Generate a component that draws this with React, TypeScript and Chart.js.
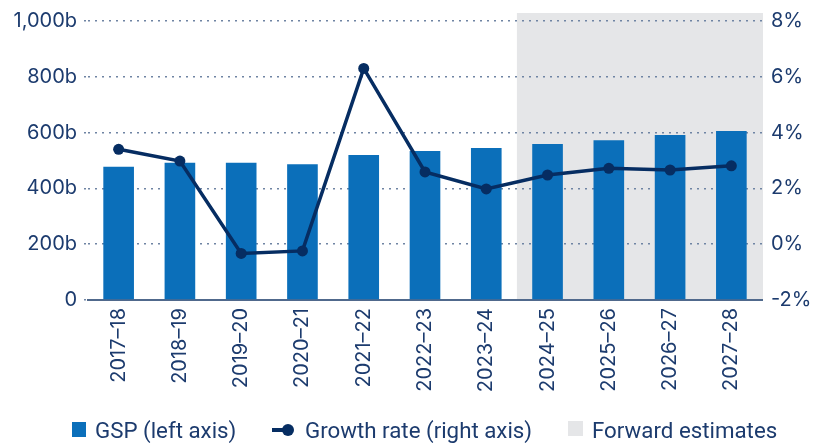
import React, { useEffect, useRef } from 'react';
import { Chart, registerables } from 'chart.js';

Chart.register(...registerables);

const categories = ['2017–18', '2018–19', '2019–20', '2020–21', '2021–22', '2022–23', '2023–24', '2024–25', '2025–26', '2026–27', '2027–28'];
const gspValues = [478, 492, 492, 487, 520, 534, 545, 559, 573, 591, 606];
const growthValues = [3.4, 2.98, -0.33, -0.24, 6.3, 2.59, 1.98, 2.48, 2.72, 2.66, 2.81];
const forwardStartIndex = 7;
const legendLabels = ['GSP (left axis)', 'Growth rate (right axis)', 'Forward estimates'];

const BAR = '#0b6fba';
const LINE = '#062d62';
const TEXT = '#1c3b6e';
const SHADE = '#e5e6e8';
const GRID = '#6f84a3';

const shadePlugin = {
  id: 'forwardShade',
  beforeDraw(chart: any) {
    const { ctx, chartArea, scales } = chart;
    const x = scales.x;
    const half = (x.getPixelForValue(1) - x.getPixelForValue(0)) / 2;
    const left = x.getPixelForValue(forwardStartIndex) - half;
    ctx.save();
    ctx.fillStyle = SHADE;
    ctx.fillRect(left, chartArea.top - 8, chartArea.right - left + 1, chartArea.bottom - chartArea.top + 8);
    ctx.restore();
  },
};

export default function App() {
  const ref = useRef<HTMLCanvasElement>(null);
  useEffect(() => {
    if (!ref.current) return;
    const tickFont = { family: 'Inter', size: 20 };
    const chart = new Chart(ref.current, {
      type: 'bar',
      data: {
        labels: categories,
        datasets: [
          {
            type: 'line',
            label: legendLabels[1],
            data: growthValues,
            yAxisID: 'y1',
            borderColor: LINE,
            backgroundColor: LINE,
            borderWidth: 3.5,
            pointRadius: 5.5,
            pointBackgroundColor: LINE,
            pointBorderWidth: 0,
            tension: 0,
            order: 1,
          } as any,
          {
            type: 'bar',
            label: legendLabels[0],
            data: gspValues,
            yAxisID: 'y',
            backgroundColor: BAR,
            barPercentage: 0.5,
            categoryPercentage: 1,
            order: 2,
          },
        ],
      },
      options: {
        animation: false,
        responsive: true,
        maintainAspectRatio: false,
        layout: { padding: { top: 21, left: 0, right: 0, bottom: 0 } },
        plugins: { legend: { display: false }, tooltip: { enabled: false } },
        scales: {
          x: {
            offset: true,
            grid: { display: false, drawTicks: false },
            border: { display: true, color: '#50698c', width: 2 },
            ticks: { color: TEXT, font: tickFont, minRotation: 90, maxRotation: 90, padding: 8, autoSkip: false },
            afterFit(s: any) { s.height = 143; },
          },
          y: {
            position: 'left',
            min: 0,
            max: 1000,
            grid: { color: GRID, lineWidth: 1.5, drawTicks: true, tickLength: 4, tickBorderDash: [2, 5], tickColor: GRID },
            border: { display: false, dash: [2, 5] },
            ticks: {
              stepSize: 200,
              color: TEXT,
              font: tickFont,
              padding: 7,
              callback: (v: any) => (v === 0 ? '0' : Number(v).toLocaleString('en-US') + 'b'),
            },
            afterFit(s: any) { s.width = 88; },
          },
          y1: {
            position: 'right',
            min: -2,
            max: 8,
            grid: { drawOnChartArea: false, drawTicks: false },
            border: { display: false },
            ticks: {
              stepSize: 2,
              color: TEXT,
              font: tickFont,
              padding: 9,
              callback: (v: any) => v + '%',
            },
            afterFit(s: any) { s.width = 55; },
          },
        },
      },
      plugins: [shadePlugin],
    });
    return () => chart.destroy();
  }, []);

  const legendText: React.CSSProperties = {
    position: 'absolute',
    top: 417,
    fontFamily: 'Roboto',
    fontSize: 22.3,
    color: TEXT,
    whiteSpace: 'nowrap',
    lineHeight: '26px',
  };

  return (
    <div style={{ position: 'fixed', left: 0, top: 0, width: 817, height: 443, background: '#fff' }}>
      <canvas ref={ref} />
      <div style={{ position: 'absolute', left: 72, top: 422, width: 14, height: 15, background: BAR }} />
      <div style={{ ...legendText, left: 95 }}>{legendLabels[0]}</div>
      <div style={{ position: 'absolute', left: 272, top: 428, width: 18, height: 4, background: LINE }} />
      <div style={{ position: 'absolute', left: 282, top: 424, width: 12, height: 12, borderRadius: 6, background: LINE }} />
      <div style={{ ...legendText, left: 305 }}>{legendLabels[1]}</div>
      <div style={{ position: 'absolute', left: 568, top: 421, width: 15, height: 15, background: SHADE }} />
      <div style={{ ...legendText, left: 592 }}>{legendLabels[2]}</div>
    </div>
  );
}
